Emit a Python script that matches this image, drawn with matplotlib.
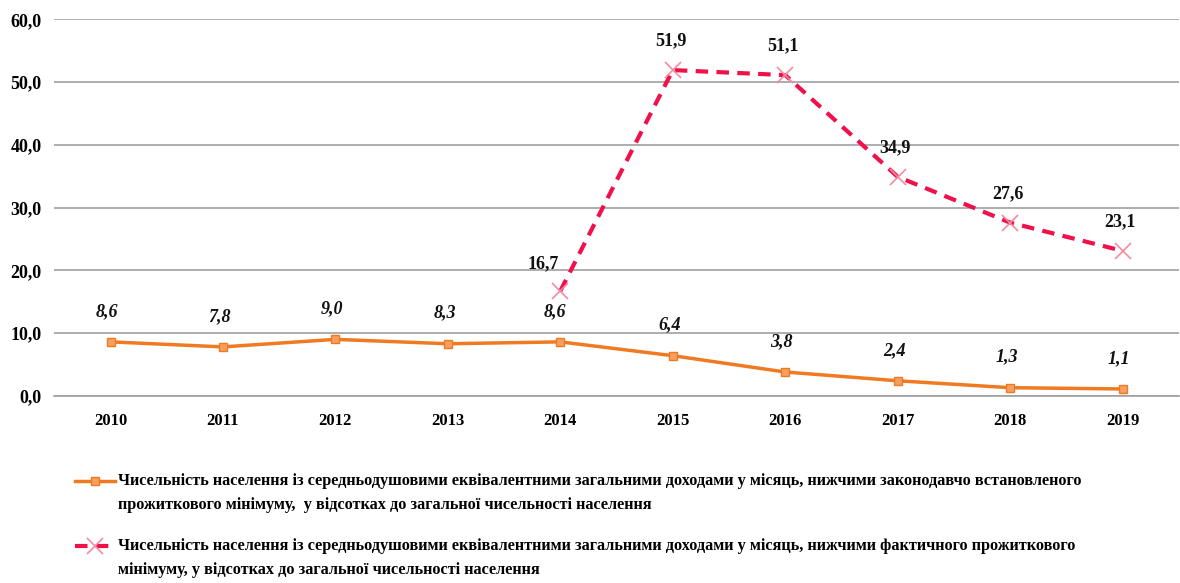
import matplotlib.pyplot as plt
from matplotlib.lines import Line2D

plt.rcParams['font.family'] = ['Liberation Serif', 'DejaVu Serif']

years = ["2010", "2011", "2012", "2013", "2014", "2015", "2016", "2017", "2018", "2019"]
legal_min = [8.6, 7.8, 9.0, 8.3, 8.6, 6.4, 3.8, 2.4, 1.3, 1.1]
actual_years = ["2014", "2015", "2016", "2017", "2018", "2019"]
actual_min = [16.7, 51.9, 51.1, 34.9, 27.6, 23.1]
yticks = [0, 10, 20, 30, 40, 50, 60]

label_legal = ("Чисельність населення із середньодушовими еквівалентними загальними доходами у місяць, "
               "нижчими законодавчо встановленого\nпрожиткового мінімуму,  у відсотках до загальної "
               "чисельності населення")
label_actual = ("Чисельність населення із середньодушовими еквівалентними загальними доходами у місяць, "
                "нижчими фактичного прожиткового\nмінімуму, у відсотках до загальної чисельності населення")

ORANGE = "#F07A22"
RED = "#F0104A"
PINK = "#F48AA0"

fig = plt.figure(figsize=(11.8, 5.83), dpi=100)
ax = fig.add_axes([0.046, 0.321, 0.953, 0.646])

xs = list(range(len(years)))
xa = [years.index(y) for y in actual_years]

ax.plot(xs, legal_min, color=ORANGE, lw=2.5, marker="s", ms=6,
        mfc="#F5A060", mec=ORANGE, zorder=3)
ax.plot(xa, actual_min, color=RED, lw=3, ls=(0, (3, 2)), zorder=3)
ax.plot(xa, actual_min, ls="none", marker="x", ms=11, mew=1.2, color=PINK, zorder=4)

for x, v in zip(xs, legal_min):
    dx = -0.05 if x == 4 else -0.03
    ax.annotate(f"{v:.1f}".replace(".", ","), (x + dx, v), xytext=(0, 22),
                textcoords="offset points", ha="center", va="center",
                fontsize=13, fontweight="bold", fontstyle="italic", color="#111111")

for x, v in zip(xa, actual_min):
    if x == 4:
        off, dx = (0, 20), -0.15
    else:
        off, dx = (0, 21), -0.02
    ax.annotate(f"{v:.1f}".replace(".", ","), (x + dx, v), xytext=off,
                textcoords="offset points", ha="center", va="center",
                fontsize=13, fontweight="bold", color="#111111")

ax.set_xlim(-0.5, 9.5)
ax.set_ylim(0, 60)
ax.set_yticks(yticks)
ax.set_yticklabels([f"{t:.1f}".replace(".", ",") for t in yticks],
                   fontsize=13, fontweight="bold")
ax.set_xticks(xs)
ax.set_xticklabels(years, fontsize=12, fontweight="bold")
ax.tick_params(axis="both", length=0)
ax.tick_params(axis="x", pad=12)
ax.tick_params(axis="y", pad=9)
ax.grid(axis="y", color="#A0A0A0", lw=1.2)
ax.set_axisbelow(True)
for s in ["top", "right", "left"]:
    ax.spines[s].set_visible(False)
ax.spines["bottom"].set_color("#A0A0A0")
ax.spines["bottom"].set_linewidth(1.2)

# manual legend, positions in pixels of the 1180x583 canvas
def fy(py):
    return 1 - py / 583

def fx(px):
    return px / 1180

fig.add_artist(Line2D([fx(75), fx(115)], [fy(481), fy(481)], color=ORANGE, lw=2.5))
fig.add_artist(Line2D([fx(95)], [fy(481)], color=ORANGE, marker="s", ms=6,
                      mfc="#F5A060", mec=ORANGE))
fig.add_artist(Line2D([fx(75), fx(115)], [fy(546), fy(546)], color=RED, lw=3, ls=(0, (3, 2))))
fig.add_artist(Line2D([fx(95)], [fy(546)], ls="none", marker="x", ms=11, mew=1.2, color=PINK))

fig.text(fx(118), fy(473), label_legal, ha="left", va="top", fontsize=11.7, fontweight="bold",
         linespacing=1.7)
fig.text(fx(118), fy(538), label_actual, ha="left", va="top", fontsize=11.7, fontweight="bold",
         linespacing=1.7)

fig.savefig("out.png", dpi=100, facecolor="white")
